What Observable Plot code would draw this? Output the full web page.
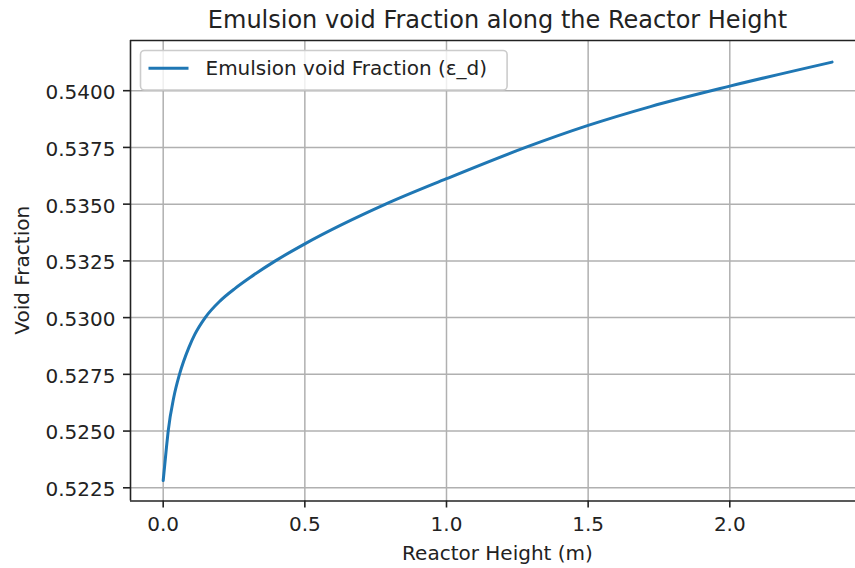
<!DOCTYPE html>
<html>
<head>
<meta charset="utf-8">
<script src="https://cdn.jsdelivr.net/npm/d3@7"></script>
<script src="https://cdn.jsdelivr.net/npm/@observablehq/plot@0.6"></script>
<style>
  html, body { margin: 0; padding: 0; background: #fff; }
  #chart { width: 855px; height: 568px; }
</style>
</head>
<body>
<div id="chart"></div>
<script>
// Emulsion void fraction profile along the reactor height
const heightM = [0, 0.0116, 0.0176, 0.0374, 0.0575, 0.0905, 0.1116, 0.147, 0.202, 0.255, 0.308, 0.396, 0.5, 0.785, 1.0, 1.279, 1.5, 1.72, 2.0, 2.361];
const voidFraction = [0.52282, 0.52429, 0.52500, 0.52649, 0.52750, 0.52868, 0.52926, 0.52998, 0.53075, 0.53130, 0.53178, 0.53250, 0.53325, 0.53500, 0.53612, 0.53750, 0.53847, 0.53930, 0.54020, 0.54126];

const xTicks = [0, 0.5, 1.0, 1.5, 2.0];
const yTicks = [0.5225, 0.5250, 0.5275, 0.5300, 0.5325, 0.5350, 0.5375, 0.5400];

const titleText = "Emulsion void Fraction along the Reactor Height";
const xLabel = "Reactor Height (m)";
const yLabel = "Void Fraction";
const seriesName = "Emulsion void Fraction (ε_d)";

const data = heightM.map((h, i) => ({h, v: voidFraction[i]}));

const xDomain = [-0.1154, 2.4437];
const yDomain = [0.521918, 0.542212];
const lineColor = "#1f77b4";
const gridColor = "#b0b0b0";
const ink = "#222";

const W = 855, H = 568;
const mL = 130, mT = 40, mB = 67.5;

const svg = Plot.plot({
  width: W,
  height: H,
  marginLeft: mL,
  marginRight: 0,
  marginTop: mT,
  marginBottom: mB,
  style: {fontFamily: "DejaVu Sans", fontSize: "20px", color: ink, background: "#fff"},
  x: {domain: xDomain, axis: null},
  y: {domain: yDomain, axis: null},
  marks: [
    Plot.gridX(xTicks, {stroke: gridColor, strokeOpacity: 1, strokeWidth: 1.5}),
    Plot.gridY(yTicks, {stroke: gridColor, strokeOpacity: 1, strokeWidth: 1.5}),
    Plot.line(data, {x: "h", y: "v", stroke: lineColor, strokeWidth: 3, curve: "monotone-x"}),
    // spines (left, bottom, top)
    Plot.ruleX([xDomain[0]], {stroke: ink, strokeWidth: 1.6}),
    Plot.ruleY([yDomain[0], yDomain[1]], {stroke: ink, strokeWidth: 1.6}),
    // ticks and tick labels
    Plot.axisX({ticks: xTicks, tickSize: 7, tickPadding: 9, tickFormat: d3.format(".1f"), strokeWidth: 1.6, label: null}),
    Plot.axisY({ticks: yTicks, tickSize: 7, strokeWidth: 1.6, text: null, label: null}),
    Plot.axisY({ticks: yTicks, tickSize: 0, tickPadding: 15, dy: 2, tickFormat: d3.format(".4f"), label: null})
  ]
});

document.getElementById("chart").appendChild(svg);

const s = d3.select(svg);
const axesCenterX = (mL + 865) / 2;

// title
s.append("text")
  .attr("x", axesCenterX).attr("y", 28)
  .attr("text-anchor", "middle")
  .attr("fill", ink)
  .style("font-size", "24px")
  .text(titleText);

// x axis label
s.append("text")
  .attr("x", axesCenterX).attr("y", 560)
  .attr("text-anchor", "middle")
  .attr("fill", ink)
  .style("font-size", "20px")
  .text(xLabel);

// y axis label
s.append("text")
  .attr("transform", `translate(29.3,${(mT + (H - mB)) / 2}) rotate(-90)`)
  .attr("text-anchor", "middle")
  .attr("fill", ink)
  .style("font-size", "20px")
  .text(yLabel);

// legend
const lg = s.append("g");
const box = lg.append("rect")
  .attr("x", 140.5).attr("y", 50.5)
  .attr("height", 39.5)
  .attr("rx", 4).attr("ry", 4)
  .attr("fill", "#fff").attr("fill-opacity", 0.8)
  .attr("stroke", "#cccccc").attr("stroke-width", 1.6);
lg.append("line")
  .attr("x1", 148.5).attr("x2", 188.5)
  .attr("y1", 68.3).attr("y2", 68.3)
  .attr("stroke", lineColor).attr("stroke-width", 3);
const lt = lg.append("text")
  .attr("x", 205.5).attr("y", 75)
  .attr("text-anchor", "start")
  .attr("fill", ink)
  .style("font-size", "20px")
  .text(seriesName);
const tw = lt.node().getComputedTextLength();
box.attr("width", 205.5 + tw + 20 - 140.5);
</script>
</body>
</html>
